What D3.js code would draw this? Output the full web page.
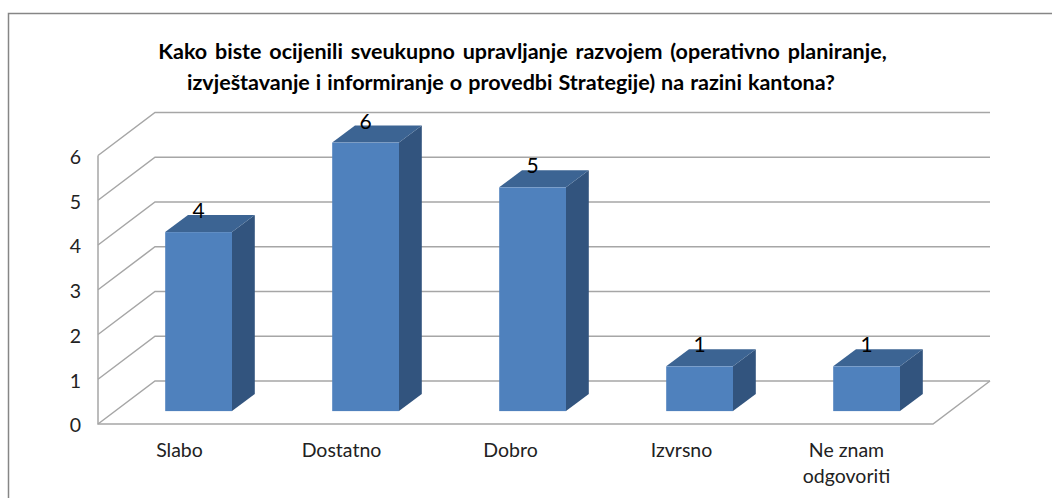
<!DOCTYPE html>
<html>
<head>
<meta charset="utf-8">
<script src="https://cdn.jsdelivr.net/npm/d3@7"></script>
<style>
  html, body { margin: 0; padding: 0; background: #fff; overflow: hidden; }
  svg { display: block; font-family: Lato, "Open Sans", sans-serif; }
</style>
</head>
<body>
<div id="svg-container"></div>
<script>
var categories = ["Slabo", "Dostatno", "Dobro", "Izvrsno", "Ne znam odgovoriti"];
var values = [4, 6, 5, 1, 1];
var yTicks = [0, 1, 2, 3, 4, 5, 6];
var titleLines = [
  "Kako biste ocijenili sveukupno upravljanje razvojem (operativno planiranje,",
  "izvještavanje i informiranje o provedbi Strategije) na razini kantona?"
];

var width = 1052, height = 498;

// centro e spaziatura di ogni riga del titolo
var titleCenters = [522.5, 511];
var titleSpacing = [2.6, 0.8];
// piccoli spostamenti delle etichette x rispetto al centro della banda
var labelShift = [-2, -7, -5, -1, -3];

// profondita' della scatola 3d
var depthX = 57, depthY = 43;
var barOffset = 0.3, barDepth = 0.4;

var svg = d3.select("#svg-container")
  .append("svg")
  .attr("width", width)
  .attr("height", height);

var x = d3.scaleBand().domain(categories).range([98, 933]);
var step = x.step();
var y = d3.scaleLinear().domain([0, 6]).range([424, 155.5]);

// cornice esterna, tagliata a destra e in basso
svg.append("path")
  .attr("d", "M8.5," + height + "V13.5H" + width)
  .attr("fill", "none")
  .attr("stroke", "#868686")
  .attr("stroke-width", 1.5);

// titolo
svg.append("g").selectAll("text")
  .data(titleLines)
  .enter()
  .append("text")
  .attr("x", function (d, i) { return titleCenters[i]; })
  .attr("y", function (d, i) { return 59 + i * 31; })
  .attr("text-anchor", "middle")
  .attr("font-size", "21.5px")
  .attr("font-weight", "bold")
  .attr("word-spacing", function (d, i) { return titleSpacing[i] + "px"; })
  .attr("fill", "#000")
  .text(function (d) { return d; });

// griglia: parete sinistra e parete di fondo
var grid = svg.append("g")
  .attr("fill", "none")
  .attr("stroke", "#a6a6a6")
  .attr("stroke-width", 1.5);

grid.selectAll("path")
  .data(yTicks)
  .enter()
  .append("path")
  .attr("d", function (d) {
    return "M" + x.range()[0] + "," + y(d) +
      "L" + (x.range()[0] + depthX) + "," + (y(d) - depthY) +
      "H" + (x.range()[1] + depthX);
  });

// asse verticale, base e bordo del pavimento
grid.append("path").attr("d", "M" + x.range()[0] + "," + y(6) + "V" + y(0) + "H" + x.range()[1] +
  "L" + (x.range()[1] + depthX) + "," + (y(0) - depthY));

// barre: fronte, lato e tetto
var bars = svg.selectAll(".bar")
  .data(categories.map(function (c, i) { return { cat: c, value: values[i] }; }))
  .enter()
  .append("g")
  .attr("class", "bar");

function barLeft(d) { return x(d.cat) + step * 0.3 + depthX * barOffset; }
function barRight(d) { return barLeft(d) + step * 0.4; }
function barBase() { return y(0) - depthY * barOffset; }
function barTop(d) { return barBase() - (y(0) - y(d.value)); }

var dx = depthX * barDepth, dy = depthY * barDepth;

bars.append("path")
  .attr("fill", "#32547e")
  .attr("d", function (d) {
    return "M" + barRight(d) + "," + barTop(d) +
      "l" + dx + "," + (-dy) +
      "V" + (barBase() - dy) +
      "L" + barRight(d) + "," + barBase() + "Z";
  });

bars.append("path")
  .attr("fill", "#3c6493")
  .attr("d", function (d) {
    return "M" + barLeft(d) + "," + barTop(d) +
      "l" + dx + "," + (-dy) +
      "H" + (barRight(d) + dx) +
      "L" + barRight(d) + "," + barTop(d) + "Z";
  });

bars.append("rect")
  .attr("fill", "#4f81bd")
  .attr("x", barLeft)
  .attr("y", barTop)
  .attr("width", step * 0.4)
  .attr("height", function (d) { return barBase() - barTop(d); });

bars.append("text")
  .attr("x", function (d) { return (barLeft(d) + barRight(d)) / 2; })
  .attr("y", function (d) { return barTop(d) - 14; })
  .attr("text-anchor", "middle")
  .attr("font-size", "21px")
  .attr("fill", "#000")
  .text(function (d) { return d.value; });

// etichette asse y
var yAxis = svg.append("g")
  .attr("transform", "translate(" + x.range()[0] + ",1.5)")
  .call(d3.axisLeft(y).tickValues(yTicks).tickFormat(d3.format("d")).tickSize(0).tickPadding(17));
yAxis.select(".domain").remove();
yAxis.selectAll("text")
  .attr("font-family", "Lato, sans-serif")
  .attr("font-size", "19.5px")
  .attr("fill", "#222");

// etichette asse x, su due righe quando serve
var labels = svg.append("g").selectAll("text")
  .data(categories)
  .enter()
  .append("text")
  .attr("text-anchor", "middle")
  .attr("font-size", "19.5px")
  .attr("fill", "#222");

labels.each(function (d, i) {
  var words = d === "Ne znam odgovoriti" ? ["Ne znam", "odgovoriti"] : [d];
  var cx = x(d) + x.bandwidth() / 2 + labelShift[i];
  d3.select(this).selectAll("tspan")
    .data(words)
    .enter()
    .append("tspan")
    .attr("x", cx)
    .attr("y", function (w, k) { return 456.5 + k * 26; })
    .text(function (w) { return w; });
});
</script>
</body>
</html>
